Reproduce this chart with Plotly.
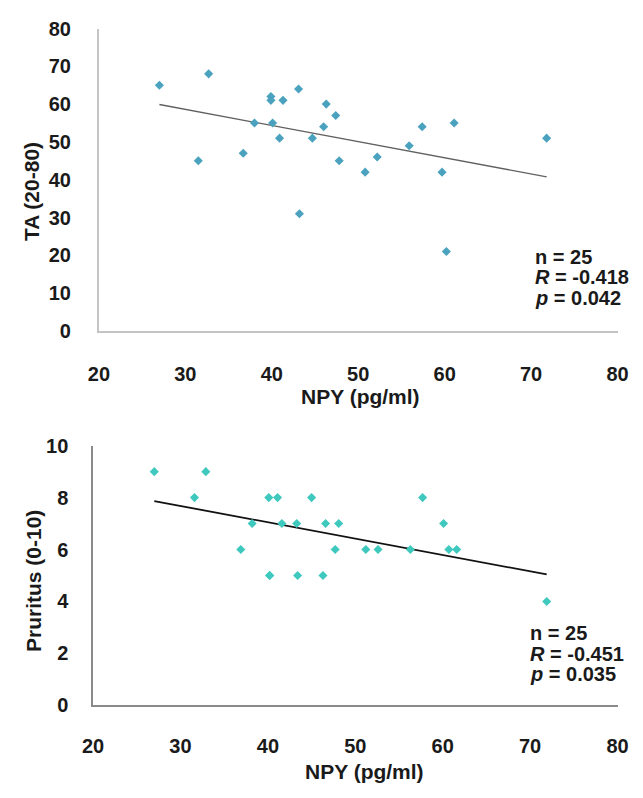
import numpy as np
import plotly.graph_objects as go

# ---- data ----
npy_top = [27.0, 31.5, 32.7, 36.7, 38.0, 39.9, 39.9, 40.1, 40.9, 41.3, 43.1, 43.2,
           44.7, 46.0, 46.3, 47.4, 47.8, 50.8, 52.2, 55.9, 57.4, 59.7, 60.2, 61.1, 71.8]
ta_vals = [65, 45, 68, 47, 55, 62, 61, 55, 51, 61, 64, 31,
           51, 54, 60, 57, 45, 42, 46, 49, 54, 42, 21, 55, 51]

npy_bot = [27.0, 31.6, 32.9, 36.9, 38.2, 40.1, 40.2, 40.2, 41.1, 41.6, 43.3, 43.4,
           45.0, 46.3, 46.6, 47.7, 48.1, 51.2, 52.6, 56.3, 57.7, 60.1, 60.7, 61.6, 71.9]
pruritus_vals = [9, 8, 9, 6, 7, 8, 5, 5, 8, 7, 7, 5,
                 8, 5, 7, 6, 7, 6, 6, 6, 8, 7, 6, 6, 4]

x_ticks = [20, 30, 40, 50, 60, 70, 80]
ta_ticks = [0, 10, 20, 30, 40, 50, 60, 70, 80]
pr_ticks = [0, 2, 4, 6, 8, 10]

stats_top = ["n = 25", "<i>R</i> = -0.418", "<i>p</i> = 0.042"]
stats_bot = ["n = 25", "<i>R</i> = -0.451", "<i>p</i> = 0.035"]

W, H = 643, 798
FONT = "Liberation Sans, Arial, sans-serif"


def dom_x(a, b):
    return [a / W, b / W]


def dom_y(top, bottom):
    return [1 - bottom / H, 1 - top / H]


fig = go.Figure()

# regression lines computed from the data
for xs, ys, xa, ya, col, lw in [
    (npy_top, ta_vals, "x", "y", "#606060", 1.3),
    (npy_bot, pruritus_vals, "x2", "y2", "#111111", 1.8),
]:
    k, b = np.polyfit(xs, ys, 1)
    lx = np.array([min(xs), max(xs)])
    fig.add_trace(go.Scatter(x=lx, y=k * lx + b, mode="lines",
                             line=dict(color=col, width=lw),
                             xaxis=xa, yaxis=ya, showlegend=False, hoverinfo="skip"))

fig.add_trace(go.Scatter(x=npy_top, y=ta_vals, mode="markers",
                         marker=dict(symbol="diamond", size=7, color="#4AA2BF"),
                         xaxis="x", yaxis="y", showlegend=False))
fig.add_trace(go.Scatter(x=npy_bot, y=pruritus_vals, mode="markers",
                         marker=dict(symbol="diamond", size=7, color="#3FC9BE"),
                         xaxis="x2", yaxis="y2", showlegend=False))

tickfont = dict(family=FONT, size=20, color="#1a1a1a", weight="bold")

common_x = dict(range=[20, 80], tickvals=x_ticks, showgrid=False, zeroline=False,
                tickfont=tickfont, ticks="", showline=True)
fig.update_layout(
    width=W, height=H,
    margin=dict(l=0, r=0, t=0, b=0),
    paper_bgcolor="white", plot_bgcolor="white",
    xaxis=dict(domain=dom_x(91, 628), anchor="y", linecolor="#C4C4C4", linewidth=2,
               ticklabelstandoff=24, **common_x),
    yaxis=dict(domain=dom_y(18, 329), anchor="x", range=[0, 80], tickvals=ta_ticks,
               showgrid=False, zeroline=False, showline=True, linecolor="#C4C4C4",
               linewidth=2, tickfont=tickfont, ticks="", ticklabelstandoff=22),
    xaxis2=dict(domain=dom_x(85, 628), anchor="y2", linecolor="#8A8A8A", linewidth=1.5,
                ticklabelstandoff=22, **common_x),
    yaxis2=dict(domain=dom_y(447, 714), anchor="x2", range=[0, 10], tickvals=pr_ticks,
                showgrid=False, zeroline=False, showline=True, linecolor="#8A8A8A",
                linewidth=1.5, tickfont=tickfont, ticks="", ticklabelstandoff=19),
)

ann = []
title_font = dict(family=FONT, size=21, color="#1a1a1a")
ann.append(dict(text="<b>TA (20-80)</b>", x=22 / W, y=1 - 186 / H, xref="paper", yref="paper",
                textangle=-90, showarrow=False, font=title_font, xanchor="center", yanchor="middle"))
ann.append(dict(text="<b>NPY (pg/ml)</b>", x=362 / W, y=1 - 396 / H, xref="paper", yref="paper",
                showarrow=False, font=title_font, xanchor="center", yanchor="middle"))
ann.append(dict(text="<b>Pruritus (0-10)</b>", x=24 / W, y=1 - 586 / H, xref="paper", yref="paper",
                textangle=-90, showarrow=False, font=title_font, xanchor="center", yanchor="middle"))
ann.append(dict(text="<b>NPY (pg/ml)</b>", x=366 / W, y=1 - 782 / H, xref="paper", yref="paper",
                showarrow=False, font=title_font, xanchor="center", yanchor="middle"))

stat_font = dict(family=FONT, size=20, color="#1a1a1a")
for i, t in enumerate(stats_top):
    ann.append(dict(text="<b>" + t + "</b>", x=541 / W, y=1 - (253 + 21 * i) / H,
                    xref="paper", yref="paper", showarrow=False, font=stat_font,
                    xanchor="left", yanchor="middle"))
for i, t in enumerate(stats_bot):
    ann.append(dict(text="<b>" + t + "</b>", x=535 / W, y=1 - (640 + 21 * i) / H,
                    xref="paper", yref="paper", showarrow=False, font=stat_font,
                    xanchor="left", yanchor="middle"))
fig.update_layout(annotations=ann)

fig.write_html("out.html", config={"displayModeBar": False},
               post_script="document.body.style.margin='0';")
